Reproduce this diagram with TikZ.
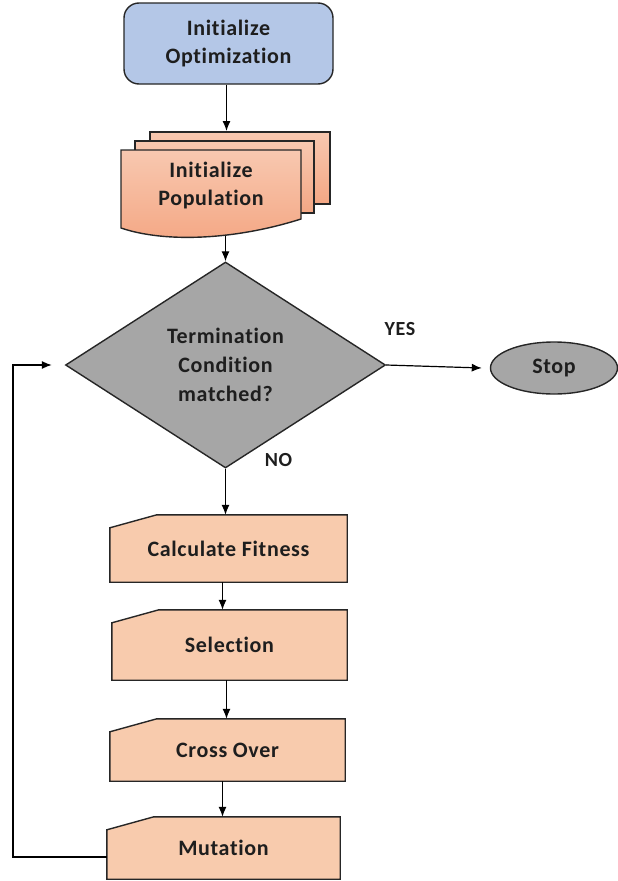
\documentclass[tikz,border=0pt]{standalone}
\usepackage{fontspec}
\setmainfont{Carlito}[LetterSpace=3, Ligatures=NoCommon]
\usetikzlibrary{arrows.meta,shapes.geometric,backgrounds,calc}

\definecolor{optblue}{HTML}{B4C7E7}
\definecolor{stepfill}{HTML}{F8CBAD}
\definecolor{popTop}{HTML}{F8C8B0}
\definecolor{popBot}{HTML}{F4A784}
\definecolor{decgray}{HTML}{A6A6A6}
\definecolor{edge}{HTML}{262626}
\definecolor{ink}{HTML}{1E1E1E}

\begin{document}
\begin{tikzpicture}[x=1pt,y=-1pt,
  lbl/.style={font=\fontsize{22}{28}\selectfont\bfseries, align=center, text=ink},
  small/.style={font=\fontsize{20}{22}\selectfont\bfseries, text=ink},
  boxline/.style={draw=edge, line width=1.4pt},
  stepbox/.style={lbl, inner sep=0pt, minimum width=#1},
  sheet/.style={boxline, top color=popTop, bottom color=popBot},
  stepshape/.style={boxline, fill=stepfill},
  flow/.style={draw=black, line width=1.2pt, -{Latex[length=10pt,width=8pt]}}
]
\useasboundingbox (0,0) rectangle (618,881);

% start node
\node[lbl, boxline, fill=optblue, rounded corners=15pt, inner sep=0pt,
      minimum width=209pt, minimum height=81pt] (opt) at (228.5,43.5)
      {Initialize\\Optimization};

% stacked population document
\node[lbl, inner sep=0pt, minimum width=180pt, minimum height=70pt] (pop) at (211,186)
      {Initialize\\Population};
\coordinate (popback) at (226.5,131);
\coordinate (popfoot) at (225.5,236);

% decision
\node[diamond, boxline, fill=decgray, inner sep=0pt, aspect=1.55,
      minimum width=320pt, minimum height=206pt,
      font=\fontsize{22}{29}\selectfont\bfseries, align=center, text=ink]
      (dec) at (225.5,365) {Termination\\Condition\\matched?};

% stop
\node[ellipse, boxline, fill=decgray, inner sep=0pt, minimum width=127pt,
      minimum height=52pt, lbl] (stop) at (554,368) {Stop};

% loop steps
\node[stepbox=237pt, minimum height=67pt] (calc) at (228.5,548.5) {Calculate Fitness};
\node[stepbox=235pt, minimum height=70pt] (sel) at (229.5,645) {Selection};
\node[stepbox=235pt, minimum height=62pt] (cross) at (227.5,750) {Cross Over};
\node[stepbox=233pt, minimum height=62pt] (mut) at (223.5,848) {Mutation};

% branch labels
\node[small] (yes) at (400,329) {YES};
\node[small] (no) at (278.5,460.5) {NO};

\begin{scope}[on background layer]
  % three sheets of the population document
  \path[sheet] (150,132) rectangle (330,204);
  \path[sheet] (135,141) rectangle (314,213);
  \path[sheet] (121,150) -- (301,150) -- (301,219)
        .. controls (235,240) and (165,243) .. (121,228) -- cycle;
  % manual-input outlines behind the step texts
  \foreach \n in {calc,sel,cross,mut}{
    \path[stepshape] (\n.south west) -- (\n.south east) -- (\n.north east)
      -- ([xshift=47pt]\n.north west) -- ([yshift=-13pt]\n.north west) -- cycle;
  }
\end{scope}

% connectors
\draw[flow] (opt.south -| popback) -- (popback);
\draw[flow] (popfoot) -- (dec.north);
\draw[flow] (dec.east) -- ([xshift=-8pt]stop.west);
\draw[flow] (dec.south) -- (dec.south |- calc.north);
\draw[flow] ([xshift=-6pt]calc.south) -- ([xshift=-6pt]calc.south |- sel.north);
\draw[flow] ([xshift=-3pt]sel.south) -- ([xshift=-3pt]sel.south |- cross.north);
\draw[flow] ([xshift=-5pt]cross.south) -- ([xshift=-5pt]cross.south |- mut.north);
\draw[flow]
  ([yshift=-9pt]mut.west) -- (13,857) -- (13,365) -- ([xshift=-13pt]dec.west);
\end{tikzpicture}
\end{document}
